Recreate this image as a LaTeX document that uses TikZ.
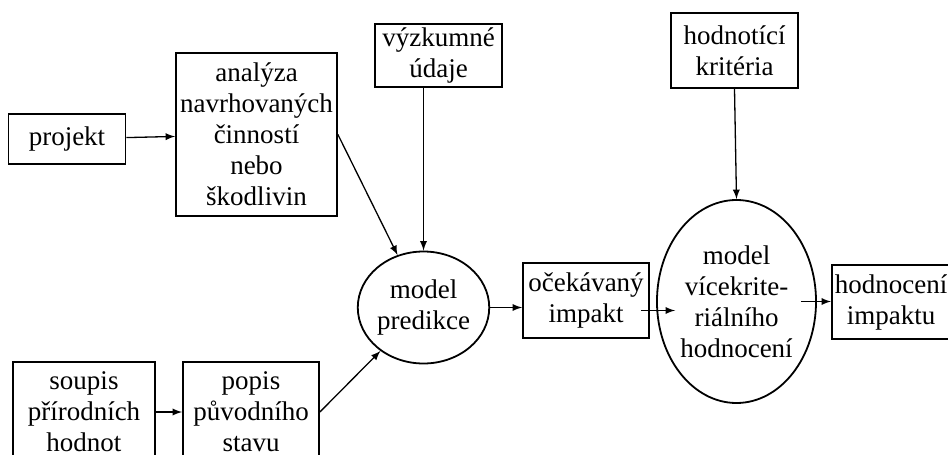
\documentclass[tikz,border=0pt]{standalone}
\usepackage{fontspec}
\setmainfont{Liberation Serif}
\usetikzlibrary{shapes.geometric}
\tikzset{box/.style={draw, line width=0.9pt, align=center, inner sep=0pt},
  oval/.style={draw, ellipse, line width=0.9pt, align=center, inner sep=0pt},
  link/.style={->, >=latex, line width=0.65pt}}

\begin{document}
\begin{tikzpicture}[x=0.5pt, y=-0.5pt, font=\fontsize{13.5}{15.5}\selectfont]
        \useasboundingbox (0,0) rectangle (948,455);

        \node [box, minimum width=58.5pt, minimum height=25pt] (proj) at (67,139) {projekt};
        \node [box, minimum width=80.5pt, minimum height=81.5pt] (anal) at (256.5,134.5)
            {analýza\\navrhovaných\\činností\\nebo\\škodlivin};
        \node [box, minimum width=63.5pt, minimum height=31.5pt] (vyzk) at (438.5,55.5) {výzkumné\\údaje};
        \node [box, minimum width=63.5pt, minimum height=37.5pt] (krit) at (734.5,50.5) {hodnotící\\kritéria};

        \node [oval, minimum width=59.5pt, minimum height=56pt] (pred) at (423.5,307.5) {model\\predikce};
        \node [box, minimum width=63pt, minimum height=37.5pt] (ocek) at (586,300.5) {očekávaný\\impakt};
        \node [oval, minimum width=77.5pt, minimum height=101.5pt] (vice) at (736.5,301.5)
            {model\\vícekrite-\\riálního\\hodnocení};
        \node [box, inner xsep=1.5pt, minimum height=37pt, anchor=west] (hodn) at (831,302) {hodnocení\\impaktu};

        \node [box, minimum width=71pt, minimum height=50pt] (soup) at (84,412) {soupis\\přírodních\\hodnot};
        \node [box, minimum width=68pt, minimum height=50pt] (popis) at (251,412) {popis\\původního\\stavu};

        % spojnice
        \path[link] (proj) edge (anal)
            (anal.east) edge (pred)
            (pred.north |- vyzk.south) edge (pred.north)
            (popis.east) edge (pred)
            (pred.east) edge (pred.east -| ocek.west)
            ([yshift=-5pt]ocek.east) edge[shorten <=-4.5pt, shorten >=-9.5pt] ([yshift=-5pt]ocek.east -| vice.west)
            (vice.east) edge[shorten <=-8pt] (vice.east -| hodn.west)
            (krit.south) edge (vice.north)
            (soup) edge (popis);
\end{tikzpicture}
\end{document}
